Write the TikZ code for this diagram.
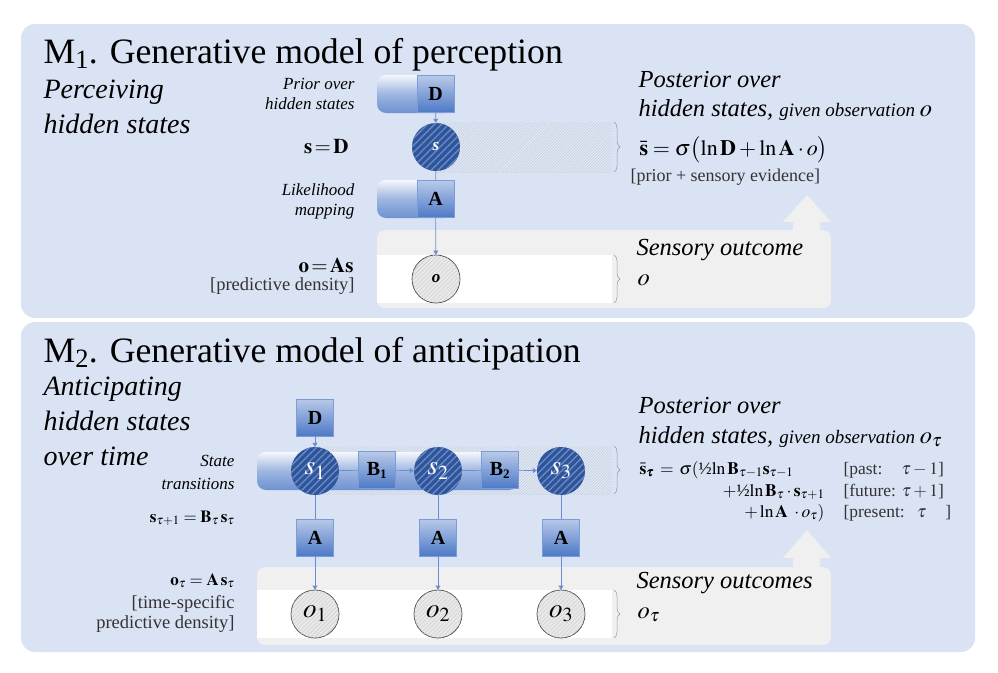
\documentclass[tikz,border=0pt]{standalone}
\usepackage{amsmath}
\usepackage{mathptmx}
\usepackage{bm}
\usepackage{fontspec}
\setmainfont{Liberation Serif}
\usetikzlibrary{patterns,patterns.meta,arrows.meta,decorations.pathreplacing}
\definecolor{panel}{HTML}{DAE3F3}
\definecolor{darkblue}{HTML}{2F5597}
\definecolor{midblue}{HTML}{4472C4}
\definecolor{hatchblue}{HTML}{6688CC}
\definecolor{outgray}{HTML}{F0F0F0}
\definecolor{hatchgray}{HTML}{BCC5D6}
\newcommand{\fs}[1]{\fontsize{#1}{#1}\selectfont}
\tikzset{
  panelbox/.style={fill=panel, rounded corners=14pt},
  statenode/.style={circle, inner sep=0pt, minimum size=48pt, fill=darkblue, text=white,
     postaction={pattern={Lines[angle=45,distance=5pt,line width=1.4pt]}, pattern color=hatchblue}},
  obsnode/.style={circle, inner sep=0pt, minimum size=48pt, fill=gray!18, draw=gray!55!black, line width=0.7pt,
     postaction={pattern={Lines[angle=45,distance=3pt,line width=0.4pt]}, pattern color=gray!40}},
  matbox/.style={minimum width=37pt, minimum height=37pt, inner sep=0pt, draw=midblue!70, line width=0.6pt,
     top color=midblue!38, bottom color=midblue!95, font=\fs{20}\bfseries},
  barshape/.style={rounded corners=9pt, top color=white!70!panel, bottom color=midblue!78,
     middle color=midblue!52},
  hatcharea/.style={fill=panel!85!white, postaction={pattern={Lines[angle=45,distance=2pt,line width=0.35pt]}, pattern color=hatchgray}},
  outarea/.style={fill=outgray, rounded corners=8pt},
  whitestrip/.style={fill=white},
  conn/.style={draw=midblue!80, line width=0.7pt},
  connarr/.style={conn, -{Triangle[width=5pt,length=4pt]}},
  bracestyle/.style={draw=gray!80, line width=0.5pt, decorate, decoration={brace, amplitude=6pt}},
  txt/.style={inner ysep=0pt},
  title/.style={txt, anchor=base west, font=\fs{35.7}},
  subtitle/.style={txt, anchor=base west, font=\fs{28}\itshape},
  smallit/.style={txt, anchor=base east, font=\fs{17}\itshape, align=right},
  eqlabel/.style={txt, anchor=base east, font=\fs{21}},
  note/.style={txt, anchor=base east, font=\fs{18.5}, text=black!80},
  postit/.style={txt, anchor=base west, font=\fs{24.5}\itshape},
  formW/.style={txt, anchor=base west, font=\fs{17.5}},
  formE/.style={txt, anchor=base east, font=\fs{17.5}},
  bracket/.style={txt, anchor=base west, font=\fs{17.5}, text=black!80},
  upsym/.style={fill=outgray}
}
\begin{document}
\begin{tikzpicture}[x=1pt,y=-1pt]
\useasboundingbox (0,0) rectangle (998,672);
% ---------------- Panel 1 ----------------
\fill[panelbox] (21,24) rectangle (975,318);
\node[title] (t1) at (40,63) {M\textsubscript{1}. Generative model of perception};
\node[subtitle] (p1a) at (40,98) {Perceiving};
\node[subtitle] (p1b) at (40,133) {hidden states};
% hatched posterior area
\fill[hatcharea] (436,122) rectangle (612,172);
% output area
\fill[outarea] (377,230) rectangle (831,308);
\fill[upsym] (793,232) -- (793,222) -- (783,222) -- (807,195) -- (831,222) -- (820,222) -- (820,232) -- cycle;
\fill[whitestrip] (377,255) rectangle (612,303);
% bars
\shade[barshape] (377,75) rectangle (454,113);
\shade[barshape] (377,180) rectangle (454,218);
\node[matbox] (D1) at (435.5,94) {D};
\node[matbox] (A1) at (435.5,199) {A};
\node[statenode, font=\fs{17}\itshape\bfseries] (s) at (436,147) {s};
\node[obsnode, font=\fs{17}\itshape\bfseries] (o) at (436,279) {o};
\draw[connarr] (D1) -- (s);
\draw[conn] (s) -- (A1);
\draw[connarr] (A1) -- (o);
% left labels
\node[smallit] (prior1) at (358,89) {Prior over};
\node[smallit] (prior2) at (358,109) {hidden states};
\node[eqlabel] (sD) at (352,153) {$\mathbf{s}\,{=}\,\mathbf{D}$};
\node[smallit] (lik1) at (358,195) {Likelihood};
\node[smallit] (lik2) at (358,215) {mapping};
\node[eqlabel] (oAs) at (357,272) {$\mathbf{o}\,{=}\,\mathbf{As}$};
\node[note] (pd1) at (358,290) {[predictive density]};
% braces
\draw[bracestyle] (614,122) -- (614,172);
\draw[bracestyle] (614,255) -- (614,303);
% right texts
\node[postit] (post1) at (635,87) {Posterior over};
\node[postit] (post2) at (635,116) {hidden states, {\fs{19}given observation }$o$};
\node[txt, anchor=base west, font=\fs{22}] (form1) at (636,155) {$\bar{\mathbf{s}}=\sigma\bigl(\ln\mathbf{D}+\ln\mathbf{A}\cdot o\bigr)$};
\node[txt, anchor=base west, font=\fs{18}, text=black!80] (prior3) at (627,181) {[prior + sensory evidence]};
\node[postit] (sens1) at (633,255) {Sensory outcome};
\node[postit] (sens2) at (634,285) {$o$};
% ---------------- Panel 2 ----------------
\fill[panelbox] (21,322) rectangle (975,652);
\node[title] (t2) at (40,362) {M\textsubscript{2}. Generative model of anticipation};
\node[subtitle] (p2a) at (40,395) {Anticipating};
\node[subtitle] (p2b) at (40,430) {hidden states};
\node[subtitle] (p2c) at (40,465) {over time};
\fill[hatcharea] (315,446) rectangle (612,494);
\fill[outarea] (257,567) rectangle (831,645);
\fill[upsym] (793,569) -- (793,558) -- (783,558) -- (807,530) -- (831,558) -- (820,558) -- (820,569) -- cycle;
\fill[whitestrip] (257,590) rectangle (612,638);
\shade[barshape] (257,452) rectangle (518,490);
\node[matbox] (D2) at (315,417.5) {D};
\node[matbox] (B1) at (377,470) {B\textsubscript{\fs{13}1}};
\node[matbox] (B2) at (500,470) {B\textsubscript{\fs{13}2}};
\node[statenode, font=\fs{27}] (s1) at (315,471) {$s_1$};
\node[statenode, font=\fs{27}] (s2) at (438,471) {$s_2$};
\node[statenode, font=\fs{27}] (s3) at (561,471) {$s_3$};
\node[matbox] (A21) at (315,537.5) {A};
\node[matbox] (A22) at (438,537.5) {A};
\node[matbox] (A23) at (561,537.5) {A};
\node[obsnode, font=\fs{27}] (o1) at (315,614) {$o_1$};
\node[obsnode, font=\fs{27}] (o2) at (438,614) {$o_2$};
\node[obsnode, font=\fs{27}] (o3) at (561,614) {$o_3$};
\draw[connarr] (D2) -- (s1);
\draw[conn] (s1) -- (B1);
\draw[connarr] (B1) -- (s2);
\draw[conn] (s2) -- (B2);
\draw[connarr] (B2) -- (s3);
\foreach \i in {1,2,3}{
  \draw[conn] (s\i) -- (A2\i);
  \draw[connarr] (A2\i) -- (o\i);
}
% left labels
\node[smallit] (st1) at (238,466) {State};
\node[smallit] (st2) at (238,489) {transitions};
\node[txt, anchor=base east, font=\fs{17}] (trans) at (238,522) {$\mathbf{s}_{\tau+1}=\mathbf{B}_{\tau}\,\mathbf{s}_{\tau}$};
\node[txt, anchor=base east, font=\fs{17}] (oAs2) at (238,585) {$\mathbf{o}_{\tau}=\mathbf{A}\,\mathbf{s}_{\tau}$};
\node[note] (ts1) at (238,608) {[time-specific};
\node[note] (ts2) at (238,628) {predictive density]};
\draw[bracestyle] (614,446) -- (614,494);
\draw[bracestyle] (614,590) -- (614,638);
\node[postit] (post3) at (635,413) {Posterior over};
\node[postit] (post4) at (635,443) {hidden states, {\fs{19}given observation }$o_\tau$};
\node[formW] (f1) at (636,474) {$\bar{\mathbf{s}}_{\bm{\tau}}\,=\,\sigma($½$\ln\mathbf{B}_{\tau-1}\mathbf{s}_{\tau-1}$};
\node[formE] (f2) at (828,496) {$+$½$\ln\mathbf{B}_{\tau}\cdot\mathbf{s}_{\tau+1}$};
\node[formE] (f3) at (828,517) {$+\ln\mathbf{A}\;\cdot o_{\tau})$};
\node[bracket] (b1) at (840,474) {[past:\hspace{1.1em}$\tau-1$]};
\node[bracket] (b2) at (840,496) {[future: $\tau+1$]};
\node[bracket] (b3) at (840,517) {[present:\hspace{0.7em}$\tau$\hspace{1.1em}]};
\node[postit] (sens3) at (633,588) {Sensory outcomes};
\node[postit] (sens4) at (634,618) {$o_\tau$};
\end{tikzpicture}
\end{document}
